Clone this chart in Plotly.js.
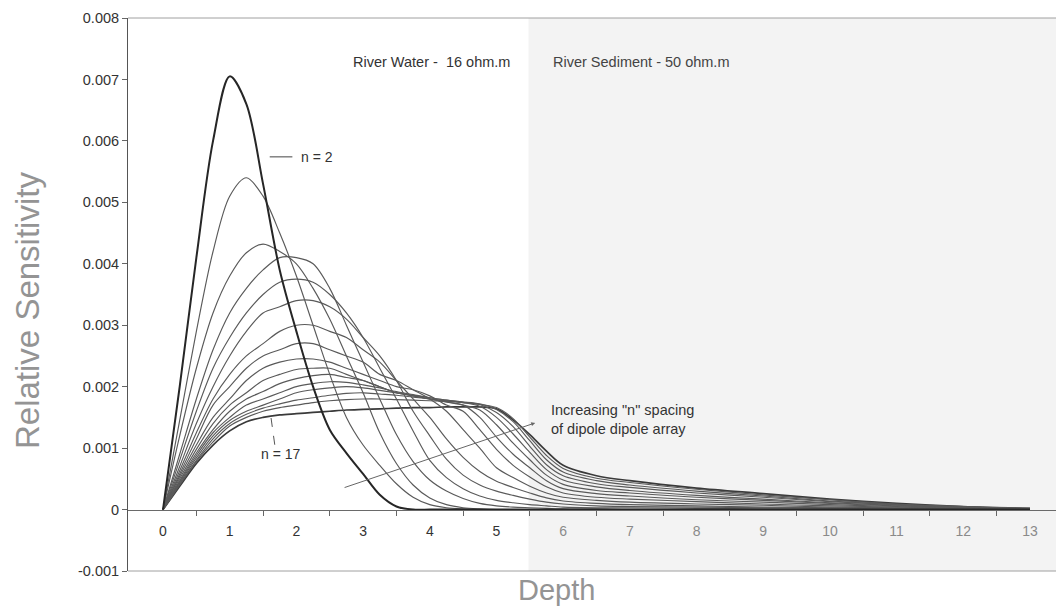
<!DOCTYPE html>
<html>
<head>
<meta charset="utf-8">
<script src="https://cdn.plot.ly/plotly-3.0.1.min.js"></script>
<style>html,body{margin:0;padding:0;background:#fff;}#chart{width:1056px;height:611px;}</style>
</head>
<body>
<div id="chart"></div>
<script>
// Depth samples (shared by every curve)
const depth = [0, 0.25, 0.5, 0.75, 1, 1.25, 1.5, 1.75, 2, 2.25, 2.5, 2.75, 3, 3.25, 3.5, 3.75, 4, 4.25, 4.5, 4.75, 5, 5.25, 5.5, 5.75, 6, 6.5, 7, 8, 9, 10, 11, 12, 13];

// Relative sensitivity for each dipole-dipole "n" spacing
const n2  = [0, 0.0020, 0.0041, 0.0060, 0.00705, 0.0066, 0.0053, 0.0039, 0.0029, 0.0020, 0.0013, 0.00092, 0.00058, 0.00024, 0.00005, 0, 0, 0, 0, 0, 0, 0, 0, 0, 0, 0, 0, 0, 0, 0, 0, 0, 0];
const n3  = [0, 0.00145, 0.0029, 0.0042, 0.0051, 0.0054, 0.0051, 0.0045, 0.0038, 0.0030, 0.0022, 0.0015, 0.00105, 0.00072, 0.00042, 0.0002, 0.00008, 0.00003, 0.00001, 0, 0, 0, 0, 0, 0, 0, 0, 0, 0, 0, 0, 0, 0];
const n4  = [0, 0.0012, 0.0023, 0.0032, 0.0038, 0.00418, 0.00432, 0.0042, 0.0040, 0.0036, 0.0031, 0.0025, 0.0019, 0.00125, 0.00075, 0.0004, 0.00019, 0.00008, 0.00003, 0.00001, 0, 0, 0, 0, 0, 0, 0, 0, 0, 0, 0, 0, 0];
const n5  = [0, 0.0009, 0.0018, 0.0026, 0.0032, 0.0036, 0.0039, 0.0041, 0.0041, 0.0040, 0.0036, 0.0030, 0.0024, 0.0018, 0.00122, 0.00078, 0.00048, 0.0003, 0.00018, 0.0001, 0.00006, 0.00004, 0.00003, 0.00002, 0.00001, 0.00001, 0, 0, 0, 0, 0, 0, 0];
const n6  = [0, 0.0008, 0.0016, 0.0023, 0.0028, 0.0032, 0.0035, 0.0037, 0.00375, 0.0037, 0.0035, 0.0032, 0.0028, 0.0023, 0.0018, 0.00128, 0.0008, 0.00052, 0.00034, 0.00022, 0.00015, 0.00011, 0.00008, 0.00006, 0.00004, 0.00003, 0.00003, 0.00002, 0.00001, 0.00001, 0, 0, 0];
const n7  = [0, 0.0007, 0.0014, 0.0020, 0.0025, 0.0029, 0.0032, 0.0033, 0.0034, 0.0034, 0.0033, 0.0031, 0.0028, 0.0025, 0.0021, 0.0016, 0.0012, 0.00082, 0.00056, 0.0004, 0.0003, 0.00023, 0.00017, 0.00012, 0.00009, 0.00006, 0.00005, 0.00004, 0.00003, 0.00002, 0.00001, 0, 0];
const n8  = [0, 0.00063, 0.00125, 0.0018, 0.0022, 0.0025, 0.0027, 0.0029, 0.0030, 0.0030, 0.0029, 0.0028, 0.0026, 0.0024, 0.0021, 0.0018, 0.0015, 0.00115, 0.00085, 0.00062, 0.00046, 0.00036, 0.00027, 0.00019, 0.00014, 0.0001, 0.00008, 0.00006, 0.00004, 0.00003, 0.00002, 0.00001, 0];
const n9  = [0, 0.00058, 0.00115, 0.0017, 0.0020, 0.0023, 0.0025, 0.0026, 0.0027, 0.0027, 0.0026, 0.0025, 0.0024, 0.0022, 0.0021, 0.00195, 0.0018, 0.0016, 0.0013, 0.001, 0.00068, 0.00052, 0.00038, 0.00027, 0.0002, 0.00015, 0.00012, 0.00009, 0.00007, 0.00004, 0.00003, 0.00001, 0];
const n10 = [0, 0.00054, 0.00105, 0.0015, 0.0018, 0.0021, 0.0023, 0.0024, 0.00245, 0.00245, 0.0024, 0.0023, 0.0022, 0.0021, 0.0020, 0.00195, 0.00185, 0.0017, 0.0016, 0.0013, 0.00098, 0.00072, 0.00053, 0.00037, 0.00027, 0.0002, 0.00017, 0.00013, 0.00009, 0.00006, 0.00004, 0.00002, 0.00001];
const n11 = [0, 0.0005, 0.00098, 0.0014, 0.0017, 0.0019, 0.0021, 0.0022, 0.00228, 0.0023, 0.0023, 0.0022, 0.0021, 0.0020, 0.0019, 0.00185, 0.0018, 0.00175, 0.0017, 0.0015, 0.00118, 0.0009, 0.00068, 0.00047, 0.00034, 0.00026, 0.00022, 0.00016, 0.00012, 0.00008, 0.00005, 0.00002, 0.00001];
const n12 = [0, 0.00047, 0.00092, 0.0013, 0.0016, 0.0018, 0.00192, 0.00205, 0.00213, 0.00218, 0.0022, 0.00215, 0.0021, 0.0020, 0.0019, 0.00185, 0.0018, 0.00175, 0.0017, 0.00162, 0.00138, 0.00108, 0.00081, 0.00056, 0.00041, 0.00031, 0.00027, 0.0002, 0.00015, 0.0001, 0.00006, 0.00003, 0.00001];
const n13 = [0, 0.00045, 0.00088, 0.00125, 0.0015, 0.0017, 0.0018, 0.0019, 0.0020, 0.00205, 0.00208, 0.00207, 0.00203, 0.00198, 0.00192, 0.00187, 0.00182, 0.00178, 0.00174, 0.00168, 0.0015, 0.00123, 0.00093, 0.00065, 0.00048, 0.00037, 0.00031, 0.00023, 0.00017, 0.00011, 0.00007, 0.00003, 0.00001];
const n14 = [0, 0.00043, 0.00084, 0.0012, 0.00145, 0.0016, 0.0017, 0.0018, 0.0019, 0.00195, 0.00198, 0.0020, 0.00198, 0.00194, 0.0019, 0.00186, 0.00182, 0.00178, 0.00175, 0.00171, 0.00158, 0.00135, 0.00103, 0.00073, 0.00055, 0.00042, 0.00036, 0.00027, 0.0002, 0.00013, 0.00008, 0.00004, 0.00001];
const n15 = [0, 0.00041, 0.0008, 0.00115, 0.0014, 0.00155, 0.00165, 0.00172, 0.00178, 0.00182, 0.00186, 0.00189, 0.0019, 0.00188, 0.00186, 0.00183, 0.0018, 0.00177, 0.00175, 0.00172, 0.00163, 0.00143, 0.00112, 0.00081, 0.00061, 0.00047, 0.0004, 0.0003, 0.00022, 0.00014, 0.00008, 0.00004, 0.00002];
const n16 = [0, 0.0004, 0.00078, 0.0011, 0.00136, 0.0015, 0.0016, 0.00166, 0.0017, 0.00174, 0.00177, 0.00179, 0.0018, 0.0018, 0.00179, 0.00178, 0.00177, 0.00176, 0.00174, 0.00171, 0.00166, 0.00148, 0.00118, 0.00088, 0.00067, 0.00051, 0.00044, 0.00033, 0.00024, 0.00016, 0.00009, 0.00005, 0.00002];
const n17 = [0, 0.00038, 0.00075, 0.00105, 0.00128, 0.00143, 0.0015, 0.00154, 0.00156, 0.00158, 0.0016, 0.00162, 0.00163, 0.00164, 0.00165, 0.00166, 0.00166, 0.00167, 0.00167, 0.00167, 0.00164, 0.00146, 0.00122, 0.00095, 0.00072, 0.00055, 0.00047, 0.00035, 0.00026, 0.00017, 0.0001, 0.00005, 0.00002];

const seriesNames = ['n = 2','n = 3','n = 4','n = 5','n = 6','n = 7','n = 8','n = 9','n = 10','n = 11','n = 12','n = 13','n = 14','n = 15','n = 16','n = 17'];

// Axis ticks
const xTickVals = [0, 1, 2, 3, 4, 5, 6, 7, 8, 9, 10, 11, 12, 13];
const xTickText = ['0','1','2','3','4','5',
  '<span style="color:#8a8a8a">6</span>','<span style="color:#8a8a8a">7</span>','<span style="color:#8a8a8a">8</span>',
  '<span style="color:#8a8a8a">9</span>','<span style="color:#8a8a8a">10</span>','<span style="color:#8a8a8a">11</span>',
  '<span style="color:#8a8a8a">12</span>','<span style="color:#8a8a8a">13</span>'];
const xMinorTicks = [0.5, 1.5, 2.5, 3.5, 4.5, 5.5, 6.5, 7.5, 8.5, 9.5, 10.5, 11.5, 12.5];
const yTickVals = [-0.001, 0, 0.001, 0.002, 0.003, 0.004, 0.005, 0.006, 0.007, 0.008];
const yTickText = ['-0.001','0','0.001','0.002','0.003','0.004','0.005','0.006','0.007','0.008'];

// Region labels
const waterLabel = 'River Water -  16 ohm.m';
const sedimentLabel = 'River Sediment - 50 ohm.m';
const boundaryDepth = 5.48;

const allSeries = [n2, n3, n4, n5, n6, n7, n8, n9, n10, n11, n12, n13, n14, n15, n16, n17];

const traces = [];
for (let i = allSeries.length - 1; i >= 0; i--) {
  const isFirst = i === 0, isLast = i === allSeries.length - 1;
  traces.push({
    type: 'scatter', mode: 'lines', name: seriesNames[i],
    x: depth, y: allSeries[i],
    line: {shape: 'spline', smoothing: 0.9,
           color: isFirst ? '#262626' : (isLast ? '#3a3a3a' : '#5a5a5a'),
           width: isFirst ? 2 : (isLast ? 1.7 : 1.15)},
    hoverinfo: 'skip', showlegend: false
  });
}

const FONT = 'Liberation Sans, Arial, Helvetica, sans-serif';

const layout = {
  width: 1056, height: 611,
  margin: {l: 128, r: 0, t: 18, b: 40},
  paper_bgcolor: '#ffffff', plot_bgcolor: '#ffffff',
  font: {family: FONT, color: '#333'},
  showlegend: false,
  xaxis: {
    range: [-0.525, 13.39], anchor: 'free', position: 1/9,
    tickmode: 'array', tickvals: xTickVals, ticktext: xTickText,
    ticks: 'outside', ticklen: 9, tickcolor: 'rgba(0,0,0,0)',
    minor: {tickmode: 'array', tickvals: xMinorTicks, ticks: 'outside', ticklen: 5, tickcolor: '#666', tickwidth: 1, showgrid: false},
    showline: true, linecolor: '#6a6a6a', linewidth: 1,
    showgrid: false, zeroline: false,
    tickfont: {family: FONT, size: 14, color: '#333'}
  },
  yaxis: {
    range: [-0.001, 0.008],
    tickmode: 'array', tickvals: yTickVals, ticktext: yTickText,
    ticks: 'outside', ticklen: 5, tickcolor: '#666',
    showline: true, linecolor: '#555', linewidth: 1,
    showgrid: false, zeroline: false,
    tickfont: {family: FONT, size: 14.5, color: '#333'}
  },
  shapes: [
    {type: 'rect', xref: 'x', yref: 'y', x0: boundaryDepth, x1: 13.6, y0: -0.001, y1: 0.008,
     fillcolor: '#f3f3f3', line: {width: 0}, layer: 'below'},
    {type: 'line', xref: 'paper', yref: 'paper', x0: 0, x1: 1, y0: 1, y1: 1, line: {color: '#a0a0a0', width: 1}},
    {type: 'line', xref: 'paper', yref: 'paper', x0: 0, x1: 1, y0: 0, y1: 0, line: {color: '#a0a0a0', width: 1}},
    {type: 'line', xref: 'x', yref: 'y', x0: 1.60, x1: 1.94, y0: 0.00574, y1: 0.00574, line: {color: '#444', width: 1}},
    {type: 'line', xref: 'x', yref: 'y', x0: 1.62, x1: 1.68, y0: 0.00149, y1: 0.00102, line: {color: '#555', width: 1, dash: 'dash'}}
  ],
  annotations: [
    {xref: 'x', yref: 'y', x: 4.02, y: 0.00728, text: waterLabel, showarrow: false,
     font: {family: FONT, size: 14.5, color: '#333'}, xanchor: 'center', yanchor: 'middle'},
    {xref: 'x', yref: 'y', x: 7.17, y: 0.00728, text: sedimentLabel, showarrow: false,
     font: {family: FONT, size: 14.5, color: '#444'}, xanchor: 'center', yanchor: 'middle'},
    {xref: 'x', yref: 'y', x: 2.04, y: 0.00574, text: 'n = 2', showarrow: false,
     font: {family: FONT, size: 14, color: '#333'}, xanchor: 'left', yanchor: 'middle'},
    {xref: 'x', yref: 'y', x: 1.77, y: 0.000905, text: 'n = 17', showarrow: false,
     font: {family: FONT, size: 14, color: '#333'}, xanchor: 'center', yanchor: 'middle'},
    {xref: 'x', yref: 'y', x: 5.79, y: 0.00147, text: 'Increasing "n" spacing<br>of dipole dipole array', showarrow: false,
     align: 'left', font: {family: FONT, size: 14.5, color: '#333'}, xanchor: 'left', yanchor: 'middle'},
    {xref: 'x', yref: 'y', x: 5.58, y: 0.00141, axref: 'x', ayref: 'y', ax: 2.70, ay: 0.00035,
     text: '', showarrow: true, arrowhead: 2, arrowsize: 0.8, arrowwidth: 1, arrowcolor: '#666'},
    {xref: 'paper', yref: 'paper', x: (556 - 128) / 928, y: (571 - 590) / 553, text: 'Depth', showarrow: false,
     font: {family: FONT, size: 29, color: '#949494'}, xanchor: 'center', yanchor: 'middle'},
    {xref: 'paper', yref: 'paper', x: (27 - 128) / 928, y: (571 - 311) / 553, text: 'Relative Sensitivity', showarrow: false,
     textangle: -90, font: {family: FONT, size: 33, color: '#949494'}, xanchor: 'center', yanchor: 'middle'}
  ]
};

Plotly.newPlot('chart', traces, layout, {staticPlot: true, displayModeBar: false});
</script>
</body>
</html>
